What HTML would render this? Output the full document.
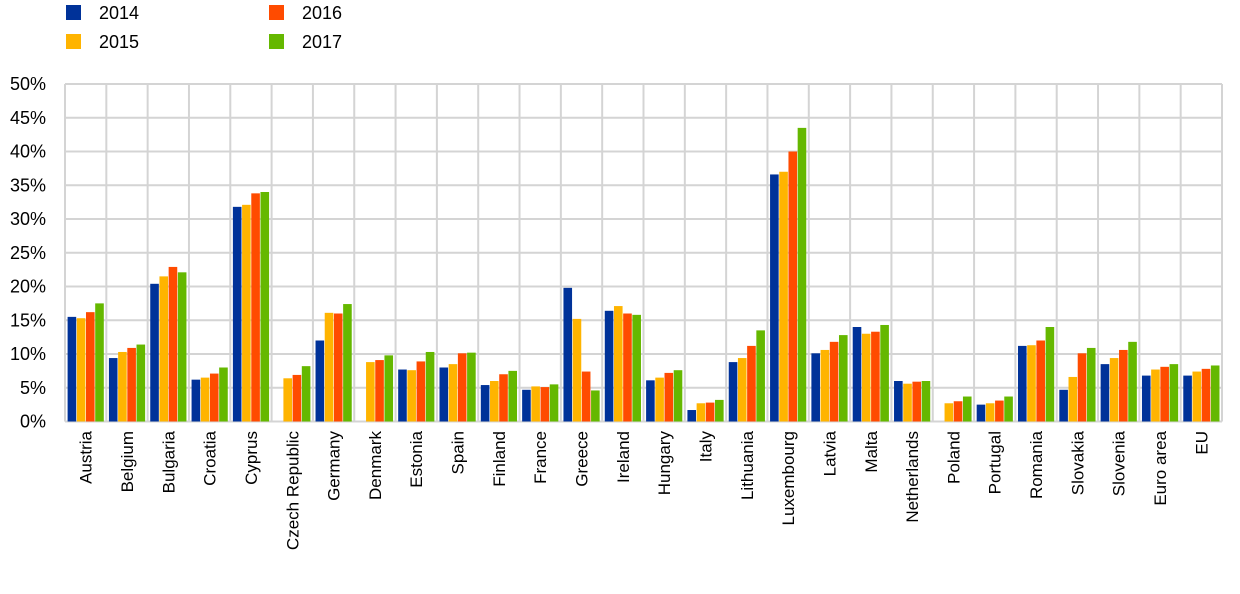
<!DOCTYPE html>
<html><head><meta charset="utf-8"><style>
body{margin:0;background:#fff;font-family:"Liberation Sans",sans-serif;}
</style></head><body>
<svg id="chart" width="1240" height="589" xmlns="http://www.w3.org/2000/svg" font-family="Liberation Sans, sans-serif"></svg>
<script>
const categories=["Austria","Belgium","Bulgaria","Croatia","Cyprus","Czech Republic","Germany","Denmark","Estonia","Spain","Finland","France","Greece","Ireland","Hungary","Italy","Lithuania","Luxembourg","Latvia","Malta","Netherlands","Poland","Portugal","Romania","Slovakia","Slovenia","Euro area","EU"];
const seriesNames=["2014","2015","2016","2017"];
const s2014=[15.5,9.4,20.4,6.2,31.8,null,12.0,null,7.7,8.0,5.4,4.7,19.8,16.4,6.1,1.7,8.8,36.6,10.1,14.0,6.0,null,2.5,11.2,4.7,8.5,6.8,6.8];
const s2015=[15.3,10.3,21.5,6.5,32.1,6.4,16.1,8.8,7.6,8.5,6.0,5.2,15.2,17.1,6.5,2.7,9.4,37.0,10.6,13.0,5.6,2.7,2.7,11.3,6.6,9.4,7.7,7.4];
const s2016=[16.2,10.9,22.9,7.1,33.8,6.9,16.0,9.1,8.9,10.1,7.0,5.1,7.4,16.0,7.2,2.8,11.2,40.0,11.8,13.3,5.9,3.0,3.1,12.0,10.1,10.6,8.1,7.8];
const s2017=[17.5,11.4,22.1,8.0,34.0,8.2,17.4,9.8,10.3,10.2,7.5,5.5,4.6,15.8,7.6,3.2,13.5,43.5,12.8,14.3,6.0,3.7,3.7,14.0,10.9,11.8,8.5,8.3];
const yTicks=[0,5,10,15,20,25,30,35,40,45,50];
const colors=["#003299","#FFB400","#FF4B00","#65B800"];
const series=[s2014,s2015,s2016,s2017];
const NS="http://www.w3.org/2000/svg";
const svg=document.getElementById('chart');
const X0=65,X1=1222,Y0=421.5,Y1=84;
const cw=(X1-X0)/categories.length;
const y=v=>Y0-(v/50)*(Y0-Y1);
const x=i=>X0+i*cw;
function mk(t,a){const e=document.createElementNS(NS,t);for(const k in a)e.setAttribute(k,a[k]);svg.appendChild(e);return e;}
yTicks.forEach(t=>{
 const l=mk('line',{x1:X0,x2:X1,y1:y(t),y2:y(t),stroke:'#d4d4d4','stroke-width':2});
 
 
 const tx=mk('text',{x:46,y:y(t)+6,'text-anchor':'end','font-size':18,fill:'#000'});
 tx.textContent=t+'%';
 
 
});
for(let i=0;i<=categories.length;i++){
 const l=mk('line',{x1:x(i),x2:x(i),y1:Y1,y2:Y0,stroke:'#d4d4d4','stroke-width':2});
 
 
}
const bw=8.6,pad=2.6,gap=0.6;
categories.forEach((c,i)=>{
 series.forEach((s,j)=>{
  const v=s[i]; if(v==null)return;
  const r=mk('rect',{x:x(i)+pad+j*(bw+gap),y:y(v),width:bw,height:Y0-y(v),fill:colors[j]});
  
  
 });
 const cx=x(i)+cw/2+6;
 const t=mk('text',{x:cx,y:431,'text-anchor':'end','font-size':17,transform:`rotate(-90 ${cx} 431)`,fill:'#000'});
 t.setAttribute('x',cx);t.setAttribute('y',431);
 t.textContent=c;
 
 
});
const legPos=[[66,5],[66,34],[269,5],[269,34]];
seriesNames.forEach((n,j)=>{
 const r=mk('rect',{x:legPos[j][0],y:legPos[j][1],width:15,height:15,fill:colors[j]});
 
 
 const t=mk('text',{x:legPos[j][0]+33,y:legPos[j][1]+14,'font-size':18,fill:'#000'});
 t.textContent=n;
 
 
});
</script>
</body></html>
